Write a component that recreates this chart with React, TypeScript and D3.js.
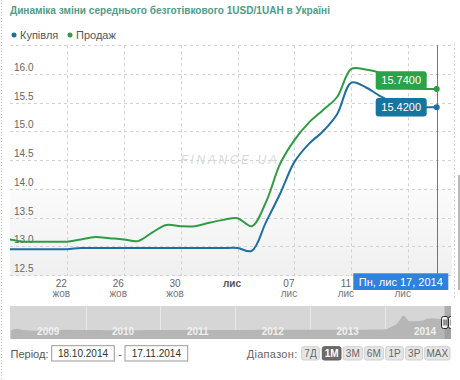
import React from 'react';
import * as d3 from 'd3';

const title = 'Динаміка зміни середнього безготівкового 1USD/1UAH в Україні';
const seriesNames = ['Купівля', 'Продаж'];
const seriesColors = ['#1d6fa3', '#2f9c45'];
const labelColors = ['#17749f', '#2aa24a'];

const dates = [
  '2014-10-18', '2014-10-19', '2014-10-20', '2014-10-21', '2014-10-22', '2014-10-23', '2014-10-24',
  '2014-10-25', '2014-10-26', '2014-10-27', '2014-10-28', '2014-10-29', '2014-10-30', '2014-10-31',
  '2014-11-01', '2014-11-02', '2014-11-03', '2014-11-04', '2014-11-05', '2014-11-06', '2014-11-07',
  '2014-11-08', '2014-11-09', '2014-11-10', '2014-11-11', '2014-11-12', '2014-11-13', '2014-11-14',
  '2014-11-15', '2014-11-16', '2014-11-17',
];
const buyValues = [
  12.95, 12.95, 12.95, 12.95, 12.95, 12.97, 12.97, 12.97, 12.97, 12.97, 12.97, 12.97, 12.97, 12.97,
  12.97, 12.97, 12.97, 12.92, 13.42, 13.92, 14.47, 14.78, 15.0, 15.3, 15.85, 15.77, 15.62, 15.5,
  15.43, 15.42, 15.42,
];
const sellValues = [
  13.12, 13.08, 13.08, 13.08, 13.08, 13.12, 13.16, 13.14, 13.12, 13.09, 13.24, 13.37, 13.35, 13.35,
  13.41, 13.46, 13.49, 13.35, 13.77, 14.44, 14.85, 15.15, 15.37, 15.6, 16.09, 16.08, 16.02, 15.85,
  15.76, 15.74, 15.74,
];
const lastLabels = ['15.4200', '15.7400'];
const crosshairLabel = 'Пн, лис 17, 2014';

const yTicks = [12.5, 13.0, 13.5, 14.0, 14.5, 15.0, 15.5, 16.0, 16.5];
const yTickLabels = ['12.5', '13.0', '13.5', '14.0', '14.5', '15.0', '15.5', '16.0', ''];
const xTickDates = ['2014-10-22', '2014-10-26', '2014-10-30', '2014-11-03', '2014-11-07', '2014-11-11', '2014-11-15'];
const xTickDays = ['22', '26', '30', 'лис', '07', '11', ''];
const xTickMonths = ['жов', 'жов', 'жов', '', 'лис', 'лис', 'лис'];
const xTickBold = [false, false, false, true, false, false, false];

// navigator (monthly averages, read from the overview strip)
const navYears = ['2009', '2010', '2011', '2012', '2013', '2014'];
const nav2009 = [7.8, 8.6, 8.0, 7.8, 7.7, 7.7, 7.7, 7.9, 8.0, 8.1, 8.0, 8.0];
const nav2010 = [8.0, 7.95, 7.95, 7.92, 7.92, 7.91, 7.9, 7.91, 7.91, 7.91, 7.95, 7.96];
const nav2011 = [7.96, 7.94, 7.94, 7.96, 7.97, 7.98, 7.98, 7.98, 7.98, 7.99, 7.99, 8.0];
const nav2012 = [8.02, 8.04, 8.03, 8.03, 8.05, 8.1, 8.12, 8.15, 8.13, 8.15, 8.14, 8.09];
const nav2013 = [8.1, 8.13, 8.14, 8.12, 8.13, 8.15, 8.15, 8.15, 8.16, 8.16, 8.2, 8.21];
const nav2014 = [8.3, 9.5, 11.0, 14.5, 12.0, 12.0, 12.2, 13.2, 13.2, 13.0, 15.7];
const navEnd = '2014-11-17';

const periodFrom = '18.10.2014';
const periodTo = '17.11.2014';
const rangeButtons = ['7Д', '1M', '3M', '6M', '1Р', '3Р', 'MAX'];
const selectedButton = '1M';

const FONT = '"Liberation Sans", Arial, sans-serif';

export default function App() {
  const parse = d3.timeParse('%Y-%m-%d');
  const dts = dates.map((d) => parse(d) as Date);
  const plotL = 10, plotR = 452, plotB = 276;

  const x = d3.scaleTime().domain([dts[0], dts[dts.length - 1]]).range([9.9, 436.7]);
  const y = d3.scaleLinear().domain([12.5, 16.5]).range([275, 45.3]);

  const line = d3
    .line<number>()
    .x((_, i) => x(dts[i]))
    .y((v) => y(v))
    .curve(d3.curveCatmullRom.alpha(0.5));

  const series = [buyValues, sellValues];
  const crossX = x(dts[dts.length - 1]);

  const boxW = 51, boxH = 18.5;
  const boxR = crossX - 10;
  const blueC = y(buyValues[buyValues.length - 1]);
  const blueTop = blueC - boxH / 2;
  const greenTop = blueTop - 8.4 - boxH;
  const boxTops = [blueTop, greenTop];

  const navAll: { d: Date; v: number }[] = [];
  [nav2009, nav2010, nav2011, nav2012, nav2013, nav2014].forEach((arr, yi) => {
    arr.forEach((v, m) => {
      const d = new Date(2009 + yi, m, yi === 5 && m === 10 ? 17 : 1);
      navAll.push({ d, v });
    });
  });
  const navEndDate = parse(navEnd) as Date;
  const nx = d3.scaleTime().domain([new Date(2009, 0, 1), navEndDate]).range([10.8, 450.7]);
  const ny = d3.scaleLinear().domain([3.9, 18.9]).range([339, 306]);
  const navArea = d3
    .area<{ d: Date; v: number }>()
    .x((p) => nx(p.d))
    .y0(339)
    .y1((p) => ny(p.v))
    .curve(d3.curveMonotoneX);
  const selX0 = nx(dts[0]);

  const dateBoxW = 95;
  const dateBoxX = plotR - 3.7 - dateBoxW;

  const btnX = [301.7, 322.3, 343.3, 364.3, 385.7, 405.7, 424.7];
  const btnW = [17.6, 18.7, 19, 19, 17.6, 17, 25.3];

  return (
    <svg
      width={460}
      height={380}
      style={{ position: 'absolute', left: 0, top: 0, background: '#fff' }}
      fontFamily={FONT}
    >
      <defs>
        <linearGradient id="pbg" x1="0" y1="0" x2="0" y2="1">
          <stop offset="0" stopColor="#fbfbfb" />
          <stop offset="1" stopColor="#f0f0f0" />
        </linearGradient>
        <clipPath id="plotClip">
          <rect x={plotL} y={40} width={plotR - plotL} height={plotB - 40} />
        </clipPath>
        <clipPath id="navClip">
          <rect x={10} y={300} width={441} height={45} />
        </clipPath>
      </defs>

      <line x1={1.5} y1={0} x2={1.5} y2={380} stroke="#c4c4c4" strokeDasharray="1,2" />
      <line x1={454.5} y1={44} x2={454.5} y2={300} stroke="#d6d6d6" strokeDasharray="2,2" />
      <rect x={458} y={175} width={2} height={115} fill="#b8b8b8" />

      <text x={10} y={14} fontSize={11} fontWeight="bold" fill="#4f9c88" textLength={320} lengthAdjust="spacingAndGlyphs">
        {title}
      </text>

      {seriesNames.map((n, i) => (
        <g key={n} transform={`translate(${i === 0 ? 14 : 70},35)`}>
          <circle cx={0} cy={0} r={2.5} fill={seriesColors[i]} />
          <text x={6} y={4} fontSize={11} fill="#555">
            {n}
          </text>
        </g>
      ))}

      <rect x={plotL} y={y(14.0)} width={plotR - plotL} height={plotB - y(14.0)} fill="url(#pbg)" />

      {yTicks.map((t) => (
        <line
          key={'gy' + t}
          x1={plotL}
          x2={plotR}
          y1={Math.round(y(t)) + 0.5}
          y2={Math.round(y(t)) + 0.5}
          stroke="#d2d2d2"
          strokeDasharray="3,3"
        />
      ))}
      {xTickDates.map((d) => {
        const xx = Math.round(x(parse(d) as Date)) + 0.5;
        return (
          <line key={'gx' + d} x1={xx} x2={xx} y1={y(16.5)} y2={plotB} stroke="#d2d2d2" strokeDasharray="3,3" />
        );
      })}

      {yTicks.map((t, i) => (
        <text key={'ly' + t} x={14} y={y(t) - 3} fontSize={10} fill="#666">
          {yTickLabels[i]}
        </text>
      ))}

      <text
        x={230}
        y={164}
        textAnchor="middle"
        fontSize={12}
        fontStyle="italic"
        letterSpacing={2.6}
        fill="#d3dcdc"
      >
        FINANCE.UA
      </text>

      <g clipPath="url(#plotClip)">
        {series.map((s, i) => (
          <path key={'s' + i} d={line(s) || ''} fill="none" stroke={seriesColors[i]} strokeWidth={2} />
        ))}
      </g>

      {xTickDates.map((d, i) => {
        const xx = x(parse(d) as Date) - 5.5;
        return (
          <g key={'lx' + d}>
            {xTickDays[i] && (
              <text
                x={xx}
                y={286.5}
                textAnchor="middle"
                fontSize={10}
                fill={xTickBold[i] ? '#555' : '#666'}
                fontWeight={xTickBold[i] ? 'bold' : 'normal'}
              >
                {xTickDays[i]}
              </text>
            )}
            {xTickMonths[i] && (
              <text x={xx} y={297} textAnchor="middle" fontSize={10} fill="#777">
                {xTickMonths[i]}
              </text>
            )}
          </g>
        );
      })}

      <line x1={Math.round(crossX) + 0.5} x2={Math.round(crossX) + 0.5} y1={y(16.5)} y2={274} stroke="#3f82c9" strokeWidth={1} />

      {series.map((s, i) => (
        <g key={'vl' + i}>
          <rect x={boxR - boxW} y={boxTops[i]} width={boxW} height={boxH} rx={3} fill={labelColors[i]} />
          <text x={boxR - boxW / 2} y={boxTops[i] + 13} textAnchor="middle" fontSize={11} fill="#fff">
            {lastLabels[i]}
          </text>
          <circle cx={crossX} cy={y(s[s.length - 1])} r={3} fill={seriesColors[i]} />
        </g>
      ))}

      <rect x={dateBoxX} y={273.3} width={dateBoxW} height={16.7} fill="#2d82df" />
      <text x={dateBoxX + dateBoxW / 2} y={285.5} textAnchor="middle" fontSize={11} fill="#fff">
        {crosshairLabel}
      </text>

      <g clipPath="url(#navClip)">
        <rect x={10} y={306} width={441} height={33} fill="#d6d6d6" />
        {navYears.slice(1).map((yr) => {
          const xx = Math.round(nx(new Date(+yr, 0, 1))) + 0.5;
          return <line key={'ny' + yr} x1={xx} x2={xx} y1={306} y2={339} stroke="#e8e8e8" />;
        })}
        <path d={navArea(navAll) || ''} fill="#b6b6b6" />
        <rect x={selX0} y={306} width={451 - selX0} height={33} fill="#8e8e8e" opacity={0.55} />
        {navYears.map((yr) => {
          const a = nx(new Date(+yr, 0, 1));
          const b = +yr === 2014 ? 462 : nx(new Date(+yr + 1, 0, 1));
          const cx = +yr === 2014 ? 425 : (a + b) / 2;
          return (
            <text key={'nl' + yr} x={cx} y={335} textAnchor="middle" fontSize={10} fontWeight="bold" fill="#f0f0f0">
              {yr}
            </text>
          );
        })}
        {[selX0 - 3, selX0 + 4].map((hx, i) => (
          <g key={'h' + i}>
            <rect x={hx} y={316.5} width={6.5} height={12} rx={2} fill="#f4f4f4" stroke="#222" />
            <line x1={hx + 2.5} x2={hx + 2.5} y1={319.5} y2={325.5} stroke="#333" />
            <line x1={hx + 4.5} x2={hx + 4.5} y1={319.5} y2={325.5} stroke="#333" />
          </g>
        ))}
      </g>

      <text x={10.5} y={358} fontSize={11} fill="#555">
        Період:
      </text>
      <rect x={51.7} y={345.7} width={62.6} height={15.3} fill="#fff" stroke="#999" />
      <text x={83} y={357} textAnchor="middle" fontSize={10} fill="#333">
        {periodFrom}
      </text>
      <text x={120} y={357.5} textAnchor="middle" fontSize={11} fill="#555">
        -
      </text>
      <rect x={125} y={345.7} width={62.7} height={15.3} fill="#fff" stroke="#999" />
      <text x={156.3} y={357} textAnchor="middle" fontSize={10} fill="#333">
        {periodTo}
      </text>

      <text x={246.7} y={358} fontSize={11} fill="#666" letterSpacing={0.3}>
        Діапазон:
      </text>
      {rangeButtons.map((b, i) => {
        const sel = b === selectedButton;
        return (
          <g key={'b' + b}>
            <rect
              x={btnX[i]}
              y={346.7}
              width={btnW[i]}
              height={13.3}
              rx={2}
              fill={sel ? '#6b6b6b' : '#e6e6e6'}
              stroke={sel ? '#5e5e5e' : '#cfcfcf'}
            />
            <text
              x={btnX[i] + btnW[i] / 2}
              y={357}
              textAnchor="middle"
              fontSize={10}
              fill={sel ? '#fff' : '#666'}
              fontWeight={sel ? 'bold' : 'normal'}
            >
              {b}
            </text>
          </g>
        );
      })}
    </svg>
  );
}
